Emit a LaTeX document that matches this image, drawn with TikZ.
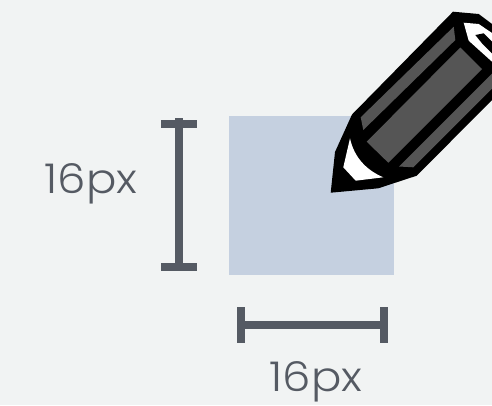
\documentclass[tikz,border=0pt]{standalone}
\usepackage{fontspec}
\setmainfont[FakeStretch=1.1]{Poppins Light}
\definecolor{pagebg}{HTML}{F1F3F3}
\definecolor{squarefill}{HTML}{C5D0E0}
\definecolor{dimgray}{HTML}{555A63}
\definecolor{facetgray}{HTML}{555555}
\tikzset{
  dimline/.style={draw=dimgray,line width=8.3},
  dimlabel/.style={text=dimgray,font=\fontsize{41}{41}\selectfont,inner sep=0pt},
  facet/.style={fill=facetgray},
}
\begin{document}
\begin{tikzpicture}[x=1pt,y=-1pt]
    \useasboundingbox (0,0) rectangle (492,405);
    \fill[pagebg] (0,0) rectangle (492,405);
    \fill[squarefill] (229,116) rectangle (394,275);
    % misura verticale
    \coordinate (vtop) at (179,118);
    \coordinate (vbot) at (179,267);
    \draw[dimline] (vtop) -- (vbot);
    \draw[dimline] (161,124) -- (197,124);
    \draw[dimline] (161,267) -- (197,267);
    \node[dimlabel] (vlabel) at (91,184) {16px};
    % misura orizzontale
    \coordinate (hleft) at (241,325);
    \coordinate (hright) at (384,325);
    \draw[dimline] (hleft) -- (hright);
    \draw[dimline] (241,307) -- (241,343);
    \draw[dimline] (384,307) -- (384,343);
    \node[dimlabel] (hlabel) at (316,382) {16px};
    % matita
    \begin{scope}
      \clip (0,0) rectangle (492,405);
      \fill[black] (330.7,192.7) -- (335,152) -- (352,114.5) -- (453,11.7)
        -- (478.7,14) -- (500,30) -- (500,92) -- (416.7,175.7) -- (378.3,188.3)
        -- cycle;
      \fill[facet] (360.7,117.3) -- (453.7,26.7) -- (455.3,40) -- (363.3,130) -- cycle;
      \fill[facet] (366.7,141.7) -- (460.3,47.5) -- (482,69) -- (388.3,162.7) -- cycle;
      \fill[facet] (399,166.5) -- (492,73.7) -- (492,88.6) -- (413.3,167.3) -- cycle;
      \fill[white] (350,138.3) -- (343.3,167.3) -- (355.7,180.7) -- (383.3,177.3)
        .. controls (366,170) and (354,157) .. cycle;
      \fill[white] (463.7,22.7) -- (478.7,24) -- (492,33) -- (492,61.7) -- (468.7,40.7) -- cycle;
      \fill[black] (475.3,35) -- (483.7,33.3) -- (492,41.7) -- (492,53.3) -- (482,43.3) -- cycle;
    \end{scope}
  \end{tikzpicture}
\end{document}
